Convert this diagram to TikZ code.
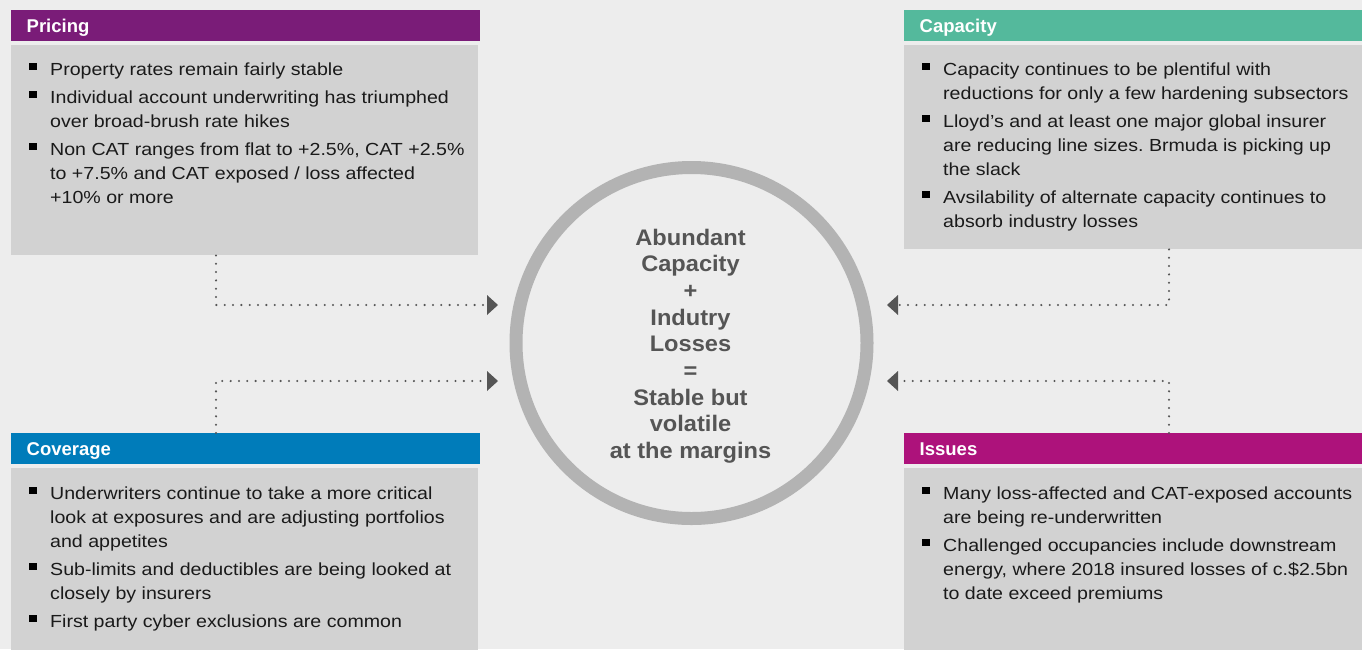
\documentclass[tikz,border=0pt]{standalone}
\usepackage{fontspec}
\setmainfont{Liberation Sans}
\newfontfamily\bodyfont[FakeStretch=1.12]{Liberation Sans}
\newfontfamily\circfont[FakeStretch=1.05]{Liberation Sans}
\usetikzlibrary{arrows.meta}
\definecolor{bgc}{HTML}{EDEDED}
\definecolor{boxc}{HTML}{D2D2D2}
\definecolor{ringc}{HTML}{B3B3B3}
\definecolor{darkc}{HTML}{555555}
\definecolor{txtc}{HTML}{1A1A1A}
\definecolor{cPur}{HTML}{7A1C78}
\definecolor{cTeal}{HTML}{54B99C}
\definecolor{cBlue}{HTML}{007CBA}
\definecolor{cMag}{HTML}{AD127B}
\newcommand\mybul{\llap{\textcolor{black}{\rule[4.8pt]{7.8pt}{7.8pt}}\hspace{13.3pt}}}
\newcommand\mystrut{\rule{0pt}{14pt}}
\newcommand\cstrut{\rule{0pt}{17pt}}
\begin{document}
\begin{tikzpicture}[x=1pt,y=-1pt,
  hdr/.style={anchor=north west, inner xsep=15.5pt, inner ysep=0pt, minimum height=31pt,
    text height=14pt, text depth=0pt, align=left, text=white,
    font=\fontsize{18.5}{22}\selectfont\bfseries},
  bodybox/.style={anchor=north west, fill=boxc, inner sep=0pt},
  bodytxt/.style={anchor=north west, inner sep=0pt, align=left, text=txtc,
    font=\bodyfont\fontsize{17.5}{24}\selectfont\frenchspacing},
  conn/.style={draw=darkc, line width=2.3pt, line cap=round, dash pattern=on 0pt off 8.33pt,
    -{Triangle[length=11pt,width=20pt,line width=0pt]}},
  ctext/.style={align=center, inner sep=0pt, text=darkc,
    font=\circfont\bfseries\fontsize{22.5}{26.66}\selectfont}]
\useasboundingbox (0,0) rectangle (1362,649);
\fill[bgc] (0,0) rectangle (1362,649);

% boxes
\node[bodybox, minimum width=467pt, minimum height=210pt] (pricebody) at (11,45) {};
\node[bodybox, minimum width=458pt, minimum height=204pt] (capbody) at (904,45) {};
\node[bodybox, minimum width=467pt, minimum height=182pt] (covbody) at (11,468) {};
\node[bodybox, minimum width=458pt, minimum height=182pt] (issbody) at (904,468) {};

% headers
\node[hdr, fill=cPur, text width=438pt] (pricehdr) at (11,10) {Pricing};
\node[hdr, fill=cTeal, text width=427pt] (caphdr) at (904,10) {Capacity};
\node[hdr, fill=cBlue, text width=438pt] (covhdr) at (11,433) {Coverage};
\node[hdr, fill=cMag, text width=427pt] (isshdr) at (904,433) {Issues};

% texts
\node[bodytxt] (pricetxt) at (50,61) {\mystrut\mybul Property rates remain fairly stable\\[4pt]
\mybul Individual account underwriting has triumphed\\
over broad-brush rate hikes\\[4pt]
\mybul Non CAT ranges from flat to +2.5\%, CAT +2.5\%\\
to +7.5\% and CAT exposed / loss affected\\
+10\% or more};

\node[bodytxt] (captxt) at (943,61) {\mystrut\mybul Capacity continues to be plentiful with\\
reductions for only a few hardening subsectors\\[4pt]
\mybul Lloyd’s and at least one major global insurer\\
are reducing line sizes. Brmuda is picking up\\
the slack\\[4pt]
\mybul Avsilability of alternate capacity continues to\\
absorb industry losses};

\node[bodytxt] (covtxt) at (50,485) {\mystrut\mybul Underwriters continue to take a more critical\\
look at exposures and are adjusting portfolios\\
and appetites\\[4pt]
\mybul Sub-limits and deductibles are being looked at\\
closely by insurers\\[4pt]
\mybul First party cyber exclusions are common};

\node[bodytxt] (isstxt) at (943,485) {\mystrut\mybul Many loss-affected and CAT-exposed accounts\\
are being re-underwritten\\[4pt]
\mybul Challenged occupancies include downstream\\
energy, where 2018 insured losses of c.\$2.5bn\\
to date exceed premiums};

% circle
\node[circle, draw=ringc, line width=13pt, minimum size=351pt, inner sep=0pt] (circ) at (691.5,343) {};
\node[ctext, anchor=north] (ctxt) at (690.5,228) {\cstrut Abundant\\Capacity\\+\\Indutry\\Losses\\=\\Stable but\\volatile\\at the margins};

% connectors
\coordinate (xL) at (216,0);
\coordinate (xR) at (1169,0);
\coordinate (tipPL) at (498,305);
\coordinate (tipCL) at (498,381);
\coordinate (tipPR) at (887,305);
\coordinate (tipIR) at (887,381);
\draw[conn] (pricebody.south -| xL) |- (tipPL);
\draw[conn] (covhdr.north -| xL) |- (tipCL);
\draw[conn] (capbody.south -| xR) |- (tipPR);
\draw[conn] (isshdr.north -| xR) |- (tipIR);
\end{tikzpicture}
\end{document}
